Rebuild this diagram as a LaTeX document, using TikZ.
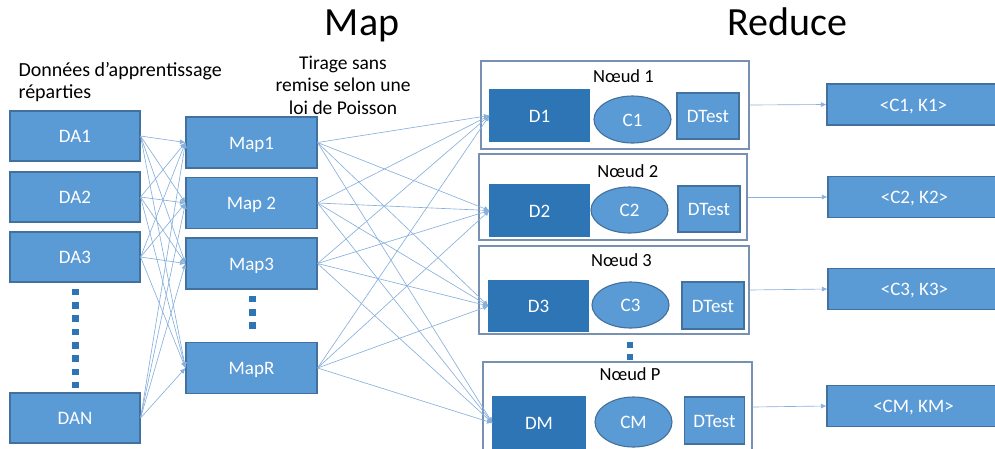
\documentclass[tikz,border=0pt]{standalone}
\usepackage{fontspec}
\setmainfont{Carlito}
\usetikzlibrary{arrows.meta,shapes.geometric}

\definecolor{boxblue}{HTML}{5B9BD5}
\definecolor{boxedge}{HTML}{41719C}
\definecolor{darkblue}{HTML}{2E75B6}
\definecolor{wireblue}{HTML}{88B0DC}
\definecolor{frameedge}{HTML}{7891B3}

\begin{document}
\begin{tikzpicture}[x=1pt,y=-1pt,
    box/.style={draw=boxedge,fill=boxblue,line width=1.1pt,text=white,inner sep=0pt,
        text height=13.5pt,text depth=0pt,font=\fontsize{19}{22}\selectfont},
    dbox/.style={box,fill=darkblue,draw=darkblue},
    cell/.style={box,ellipse},
    keybox/.style={box,minimum width=173pt,minimum height=41pt,text height=13pt,
        font=\fontsize{19}{22}\selectfont},
    frame/.style={draw=frameedge,fill=white,line width=1.1pt,inner sep=0pt},
    wire/.style={draw=wireblue,line width=0.65pt,-{Latex[length=5.5pt,width=5pt]}},
    title/.style={anchor=base,font=\fontsize{40}{44}\selectfont},
    caption/.style={anchor=base,font=\fontsize{19.5}{22.5}\selectfont}]
    \useasboundingbox (0,0) rectangle (995,448);
    \clip (0,0) rectangle (995,448);

    % titles (base of a multi-line node is its last line)
    \node[title] (maptitle) at (362,35) {Map};
    \node[title] (redtitle) at (787,35) {Reduce};
    \node[caption,anchor=base west,align=left,font=\fontsize{20}{22}\selectfont] (datatxt) at (15,98)
        {Données d’apprentissage\\réparties};
    \node[caption,align=center] (drawtxt) at (343,114) {Tirage sans\\remise selon une\\loi de Poisson};

    % distributed data
    \foreach \n/\y in {da1/136,da2/197,da3/257,dan/418}
        \node[box,minimum width=130pt,minimum height=50pt] (\n) at (75,\y) {\MakeUppercase{\n}};
    \foreach \i in {0,...,7}
        \fill[darkblue] (72.3,{288.8+13.3*\i}) rectangle ++(6.5,6.5);

    % mappers
    \node[box,minimum width=131pt,minimum height=51pt] (map1) at (251.5,142.5) {Map1};
    \node[box,minimum width=131pt,minimum height=51pt] (map2) at (251.5,203) {Map 2};
    \node[box,minimum width=131pt,minimum height=51pt] (map3) at (251.5,263.5) {Map3};
    \node[box,minimum width=131pt,minimum height=51pt] (mapr) at (251.5,368) {MapR};
    \foreach \i in {0,...,2}
        \fill[darkblue] (249.3,{295.6+13.4*\i}) rectangle ++(6.5,6.5);

    % reducer nodes
    \node[frame,minimum width=268pt,minimum height=88pt] (n1) at (615,105) {};
    \node[frame,minimum width=268pt,minimum height=86pt] (n2) at (613,197) {};
    \node[frame,minimum width=270pt,minimum height=88pt] (n3) at (614,290) {};
    \node[frame,minimum width=269pt,minimum height=90pt] (np) at (617.5,407) {};
    \foreach \i in {0,1}
        \fill[darkblue] (627,{341.8+12*\i}) rectangle ++(6,6);

    \node[caption,font=\fontsize{18.5}{20}\selectfont] (l1) at (623.4,82) {Nœud 1};
    \node[caption,font=\fontsize{18.5}{20}\selectfont] (l2) at (627.8,177) {Nœud 2};
    \node[caption,font=\fontsize{18.5}{20}\selectfont] (l3) at (621.5,266) {Nœud 3};
    \node[caption,font=\fontsize{18.5}{20}\selectfont] (lp) at (630,380) {Nœud P};

    \node[dbox,minimum width=99pt,minimum height=51pt] (d1) at (539.5,115.5) {D1};
    \node[cell,minimum width=77pt,minimum height=47pt] (c1) at (632.5,119.5) {C1};
    \node[box,minimum width=62pt,minimum height=46pt] (t1) at (708,116) {DTest};

    \node[dbox,minimum width=99pt,minimum height=51pt] (d2) at (539.5,210.5) {D2};
    \node[cell,minimum width=77pt,minimum height=46pt] (c2) at (629.5,210) {C2};
    \node[box,minimum width=62pt,minimum height=46pt] (t2) at (709,209) {DTest};

    \node[dbox,minimum width=99pt,minimum height=50pt] (d3) at (538.5,306) {D3};
    \node[cell,minimum width=77pt,minimum height=46pt] (c3) at (630.5,305) {C3};
    \node[box,minimum width=62pt,minimum height=47pt] (t3) at (713,305.5) {DTest};

    \node[dbox,minimum width=92pt,minimum height=52pt] (dm) at (539,423) {DM};
    \node[cell,minimum width=77pt,minimum height=50pt] (cm) at (633.5,422) {CM};
    \node[box,minimum width=60pt,minimum height=47pt] (tm) at (714.5,420.5) {DTest};

    % results
    \node[keybox] (r1) at (913.5,104.5) {<C1, K1>};
    \node[keybox] (r2) at (914.5,197) {<C2, K2>};
    \node[keybox] (r3) at (914.5,289) {<C3, K3>};
    \node[keybox] (rm) at (913.5,406) {<CM, KM>};

    % connectors
    \foreach \a in {da1,da2,da3,dan}
        \foreach \m in {map1,map2,map3,mapr}
            \draw[wire] (\a.east) -- (\m.west);
    \foreach \m in {map1,map2,map3,mapr}
        \foreach \d in {d1,d2,d3,dm}
            \draw[wire] (\m.east) -- (\d.west);
    \draw[wire] (n1.east) -- (r1.west);
    \draw[wire] (n2.east) -- (r2.west);
    \draw[wire] (n3.east) -- (r3.west);
    \draw[wire] (np.east) -- (rm.west);
\end{tikzpicture}
\end{document}
